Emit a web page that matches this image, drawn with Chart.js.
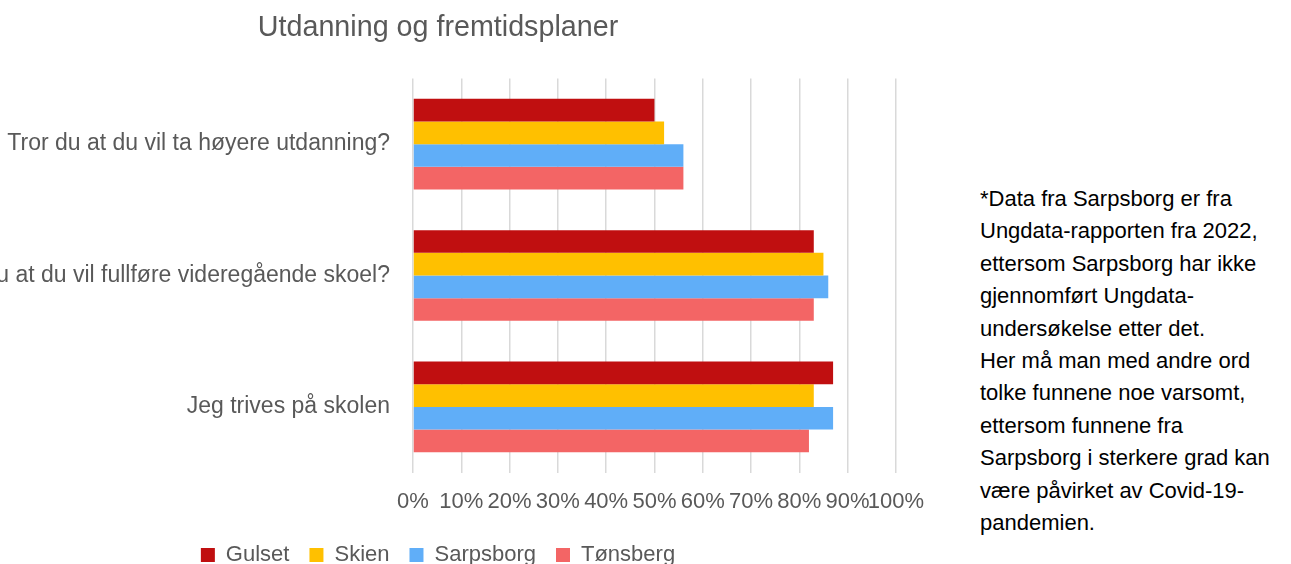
<!DOCTYPE html>
<html>
<head>
<meta charset="utf-8">
<script src="https://cdn.jsdelivr.net/npm/chart.js@4/dist/chart.umd.min.js"></script>
<style>
  html, body { margin: 0; padding: 0; width: 1291px; height: 564px; overflow: hidden; background: #fff; }
  #wrap { position: absolute; left: -21px; top: 0; width: 961px; height: 576px; }
  #note { position: absolute; left: 980px; top: 183px; font-family: "Liberation Sans", Arial, sans-serif; font-size: 22px; line-height: 32.4px; color: #000; white-space: nowrap; }
</style>
</head>
<body>
<div id="wrap"><canvas id="c"></canvas></div>
<div id="note">*Data fra Sarpsborg er fra<br>Ungdata-rapporten fra 2022,<br>ettersom Sarpsborg har ikke<br>gjennomført Ungdata-<br>undersøkelse etter det.<br>Her må man med andre ord<br>tolke funnene noe varsomt,<br>ettersom funnene fra<br>Sarpsborg i sterkere grad kan<br>være påvirket av Covid-19-<br>pandemien.</div>
<script>
const categories = [
  "Tror du at du vil ta høyere utdanning?",
  "Tror du at du vil fullføre videregående skoel?",
  "Jeg trives på skolen"
];
const gulset    = [50, 83, 87];
const skien     = [52, 85, 83];
const sarpsborg = [56, 86, 87];
const tonsberg  = [56, 83, 82];
const seriesNames = ["Gulset", "Skien", "Sarpsborg", "Tønsberg"];
const xTicks = [0, 10, 20, 30, 40, 50, 60, 70, 80, 90, 100];

const colors = ["#C00F10", "#FFC000", "#60AEF8", "#F36565"];
const FONT = "'Liberation Sans', Arial, sans-serif";
const GREY = "#595959";

new Chart(document.getElementById('c'), {
  type: 'bar',
  data: {
    labels: categories,
    datasets: [gulset, skien, sarpsborg, tonsberg].map((d, i) => ({
      label: seriesNames[i],
      data: d,
      backgroundColor: colors[i],
      borderWidth: 0,
      categoryPercentage: 0.69,
      barPercentage: 1.0
    }))
  },
  options: {
    indexAxis: 'y',
    responsive: true,
    maintainAspectRatio: false,
    animation: false,
    layout: { padding: { left: 0, right: 43, top: 0, bottom: 0 } },
    plugins: {
      title: {
        display: true,
        text: "Utdanning og fremtidsplaner",
        color: GREY,
        font: { family: FONT, size: 28.7, weight: 'normal' },
        padding: { top: 11, bottom: 33 }
      },
      legend: {
        position: 'bottom',
        labels: {
          color: GREY,
          font: { family: FONT, size: 22 },
          boxWidth: 14,
          boxHeight: 14,
          padding: 20
        }
      },
      tooltip: { enabled: false }
    },
    scales: {
      x: {
        min: 0, max: 100,
        afterBuildTicks: (s) => { s.ticks = xTicks.map(v => ({ value: v })); },
        afterFit: (s) => { s.height = s.height - 7; },
        ticks: {
          color: GREY,
          font: { family: FONT, size: 22 },
          padding: 16,
          maxRotation: 0,
          autoSkip: false,
          callback: (v) => v + '%'
        },
        grid: { color: '#D9D9D9', lineWidth: 1.5, drawTicks: false },
        border: { display: false }
      },
      y: {
        afterFit: (s) => { s.width = 434; },
        ticks: {
          color: GREY,
          font: { family: FONT, size: 23 },
          padding: 23
        },
        grid: { display: false, drawTicks: false },
        border: { display: false }
      }
    }
  }
});
</script>
</body>
</html>
